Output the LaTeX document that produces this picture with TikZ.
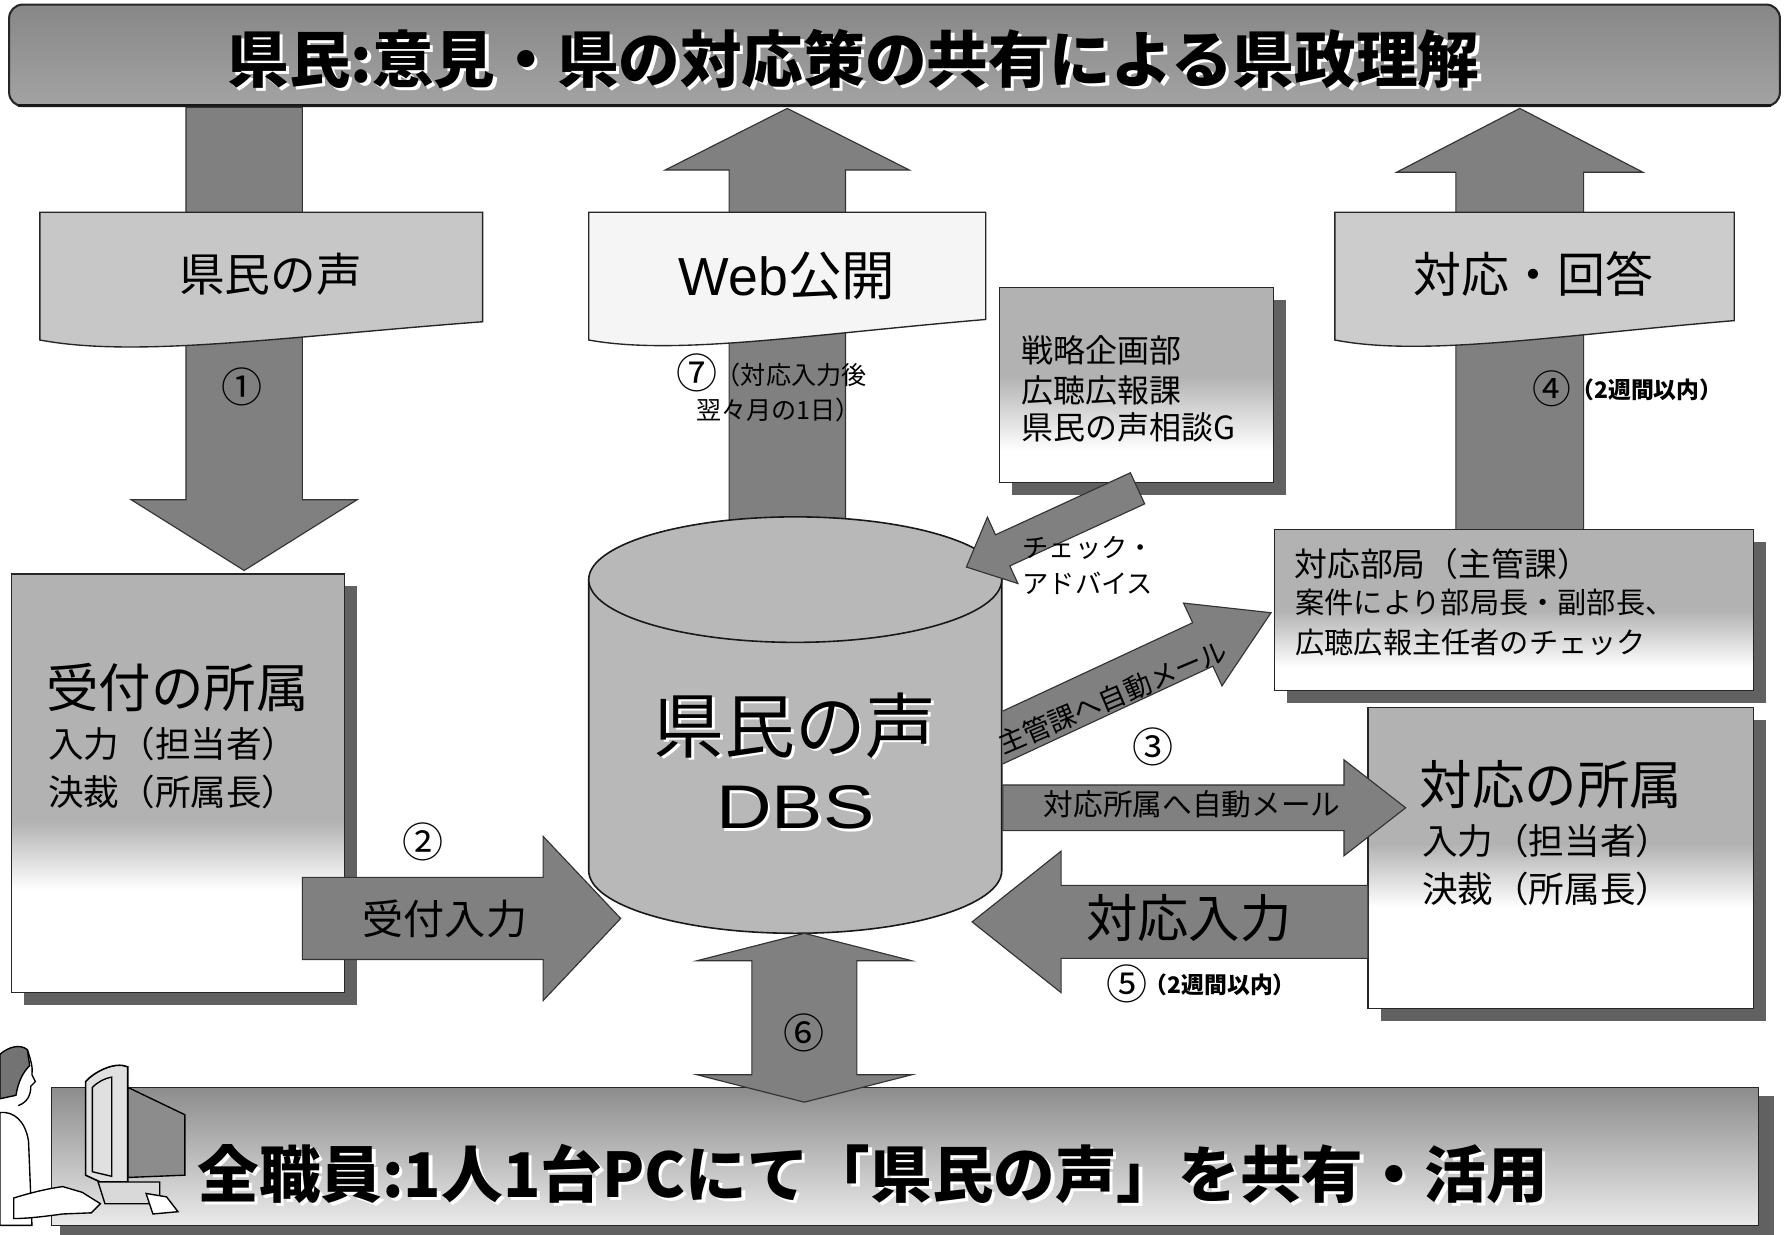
\documentclass[tikz,border=0pt]{standalone}
\usepackage{fontspec}
\setmainfont{Noto Sans CJK JP}
\newfontfamily\latinsans{Liberation Sans}
\usetikzlibrary{calc}

\newcommand{\fsz}[1]{\fontsize{#1}{#1}\selectfont}
% text with a white relief copy behind it
\newcommand{\embossed}[2][1.2pt]{\leavevmode\rlap{\kern#1\raisebox{-#1}{\textcolor{white}{#2}}}#2}

% block arrow from #2 to tip #3: shaft half width #4, head half width #5, head length #6
\newcommand{\blockarrow}[6][]{%
  \coordinate (bahead) at ($(#3)!#6!(#2)$);
  \path[#1] ($(#2)!#4!90:(#3)$) -- ($(bahead)!#4!-90:(#2)$) -- ($(bahead)!#5!-90:(#2)$)
    -- (#3) -- ($(bahead)!#5!90:(#2)$) -- ($(bahead)!#4!90:(#2)$) -- ($(#2)!#4!-90:(#3)$) -- cycle;}

% double-headed block arrow between #2 and #3
\newcommand{\dblarrow}[6][]{%
  \coordinate (dbheadA) at ($(#2)!#6!(#3)$);
  \coordinate (dbheadB) at ($(#3)!#6!(#2)$);
  \path[#1] (#2) -- ($(dbheadA)!#5!90:(#3)$) -- ($(dbheadA)!#4!90:(#3)$)
    -- ($(dbheadB)!#4!-90:(#2)$) -- ($(dbheadB)!#5!-90:(#2)$) -- (#3)
    -- ($(dbheadB)!#5!90:(#2)$) -- ($(dbheadB)!#4!90:(#2)$)
    -- ($(dbheadA)!#4!-90:(#3)$) -- ($(dbheadA)!#5!-90:(#3)$) -- cycle;}

% framed box with drop shadow, grey top fading to white
\newcommand{\gradbox}[6]{%
  \fill[dropshadow] ({#1+11},{#2+11}) rectangle ({#3+11},{#4+11});
  \fill[white] (#1,#2) rectangle (#3,#4);
  \fill[black!30] (#1,#2) rectangle (#3,#5);
  \shade[top color=black!30, bottom color=white] (#1,#5) rectangle (#3,#6);
  \draw[boxline] (#1,#2) rectangle (#3,#4);}

\tikzset{
  bigarrow/.style={fill=black!50, draw=black!80, line width=0.5pt},
  flagshape/.style={draw=black!85, line width=0.6pt},
  boxline/.style={draw=black!85, line width=0.6pt},
  dropshadow/.style={fill=black!62},
  txt/.style={inner sep=0pt, text=black},
  sketch/.style={draw=black, line width=0.6pt},
}

\begin{document}
\begin{tikzpicture}[x=0.5pt,y=-0.5pt]
\useasboundingbox (0,0) rectangle (1568,1082);
\fill[white] (0,0) rectangle (1568,1082);

% ---------- top banner
\shade[rounded corners=6pt, top color=black!47, bottom color=black!36] (8,4) rectangle (1560,93);
\draw[rounded corners=6pt, black!85, line width=0.9pt] (8,4) rectangle (1560,93);
\draw[black!90, line width=1.4pt] (16,92.5) -- (1552,92.5);
\node[txt, font=\fsz{27}\bfseries] (title) at (748,53) {\embossed[1.5pt]{県民:意見・県の対応策の共有による県政理解}};

% ---------- bottom banner
\fill[dropshadow] (53,961) rectangle (1555,1082);
\shade[top color=black!45, bottom color=black!8] (45,953) rectangle (1541,1074);
\draw[boxline] (45,953) rectangle (1541,1074);

% ---------- vertical arrows
\coordinate (v1a) at (214,94);   \coordinate (v1b) at (214,500);
\blockarrow[bigarrow]{v1a}{v1b}{25.5pt}{49.5pt}{31pt}
\coordinate (v7a) at (690,470);  \coordinate (v7b) at (690,95);
\blockarrow[bigarrow]{v7a}{v7b}{25.5pt}{53.5pt}{27pt}
\coordinate (v4a) at (1332,470); \coordinate (v4b) at (1332,95);
\blockarrow[bigarrow]{v4a}{v4b}{28pt}{54pt}{28pt}

% ---------- wavy flags
\filldraw[flagshape, fill=black!22] (35,186) -- (423,186) -- (423,282)
  .. controls (250,295) and (120,314) .. (35,298) -- cycle;
\node[txt, font=\fsz{20}] (voiceflag) at (237,240) {県民の声};
\filldraw[flagshape, fill=black!4] (516,186) -- (864,186) -- (864,280)
  .. controls (709,293) and (593,312) .. (516,298) -- cycle;
\node[txt, font=\fsz{23.5}] (webflag) at (690,242) {{\latinsans Web}公開};
\filldraw[flagshape, fill=black!20] (1170,186) -- (1520,186) -- (1520,281)
  .. controls (1364,294) and (1247,313) .. (1170,298) -- cycle;
\node[txt, font=\fsz{21}] (answerflag) at (1344,240) {対応・回答};

% ---------- boxes
\gradbox{10}{503}{302}{870}{720}{780}
\node[txt, font=\fsz{23}, anchor=west] (recvA) at (40,603) {受付の所属};
\node[txt, font=\fsz{15.6}, anchor=west] (recvB) at (42,652) {入力（担当者）};
\node[txt, font=\fsz{15.6}, anchor=west] (recvC) at (42,694) {決裁（所属長）};

\gradbox{876}{252}{1116}{423}{330}{395}
\node[txt, font=\fsz{14}, anchor=west] (pubA) at (895,307) {戦略企画部};
\node[txt, font=\fsz{14}, anchor=west] (pubB) at (895,342) {広聴広報課};
\node[txt, font=\fsz{14}, anchor=west] (pubC) at (895,375) {県民の声相談G};

\gradbox{1117}{464}{1537}{605}{535}{585}
\node[txt, font=\fsz{14.4}, anchor=west] (deptA) at (1134,494) {対応部局（主管課）};
\node[txt, font=\fsz{12.8}, anchor=west] (deptB) at (1135,528) {案件により部局長・副部長、};
\node[txt, font=\fsz{12.8}, anchor=west] (deptC) at (1135,563) {広聴広報主任者のチェック};

\gradbox{1199}{620}{1537}{884}{740}{795}
\node[txt, font=\fsz{23}, anchor=west] (respA) at (1244,688) {対応の所属};
\node[txt, font=\fsz{15.6}, anchor=west] (respB) at (1246,737) {入力（担当者）};
\node[txt, font=\fsz{15.6}, anchor=west] (respC) at (1246,779) {決裁（所属長）};

% ---------- database cylinder
\filldraw[fill=black!28, draw=black!90, line width=0.7pt] (516,508) -- (516,763)
  arc[start angle=180, end angle=360, x radius=90.5pt, y radius=27.5pt] -- (878,508) -- cycle;
\filldraw[fill=black!28, draw=black!90, line width=0.7pt] (697,508) ellipse [x radius=90.5pt, y radius=27.5pt];
\node[txt, font=\fsz{31}] (dbsname) at (697,637) {\embossed{県民の声}};
\node[txt, font=\latinsans\fsz{27}] (dbs) at (697,709) {\embossed{\scalebox{1.25}[1]{DBS}}};

% ---------- arrows around the database
\coordinate (h2a) at (265,805);  \coordinate (h2b) at (544,805);
\blockarrow[bigarrow]{h2a}{h2b}{18pt}{36pt}{34pt}
\coordinate (h5a) at (1199,808); \coordinate (h5b) at (852,808);
\blockarrow[bigarrow]{h5a}{h5b}{16pt}{31pt}{39pt}
\coordinate (h3a) at (879,708);  \coordinate (h3b) at (1232,708);
\blockarrow[bigarrow]{h3a}{h3b}{10pt}{21pt}{27pt}
\coordinate (mla) at (869,651);  \coordinate (mlb) at (1114,537);
\begin{scope}
  \clip (879,0) rectangle (1568,1082);
  \blockarrow[bigarrow]{mla}{mlb}{10.5pt}{20pt}{33pt}
\end{scope}
\coordinate (cka) at (997,428);  \coordinate (ckb) at (847,497);
\blockarrow[bigarrow]{cka}{ckb}{7.5pt}{16pt}{17.5pt}
\coordinate (d6a) at (705,818);  \coordinate (d6b) at (705,966);
\dblarrow[bigarrow]{d6a}{d6b}{23pt}{47pt}{12pt}

% ---------- arrow labels
\node[txt, font=\fsz{18}] (recvin) at (390,805) {受付入力};
\node[txt, font=\fsz{22.5}] (respin) at (1042,805) {対応入力};
\node[txt, font=\fsz{13}] (mailresp) at (1045,705) {対応所属へ自動メール};
\node[txt, font=\fsz{12}, rotate=23] (maildept) at (975,611) {主管課へ自動メール};
\node[txt, font=\fsz{11.5}, anchor=west] (checkA) at (896,480) {チェック・};
\node[txt, font=\fsz{11.5}, anchor=west] (checkB) at (896,511) {アドバイス};

\node[txt, font=\fsz{18}] (n1) at (212,339) {①};
\node[txt, font=\fsz{18}] (n2) at (371,738) {②};
\node[txt, font=\fsz{18}] (n3) at (1011,655) {③};
\node[txt, font=\fsz{17}] (n4) at (1360,341) {④};
\node[txt, font=\fsz{10}\bfseries, anchor=west] (n4t) at (1377,342) {（2週間以内）};
\node[txt, font=\fsz{18}] (n5) at (988,862) {⑤};
\node[txt, font=\fsz{10}\bfseries, anchor=west] (n5t) at (1003,863) {（2週間以内）};
\node[txt, font=\fsz{18}] (n6) at (705,905) {⑥};
\node[txt, font=\fsz{18}] (n7) at (611,327) {⑦};
\node[txt, font=\fsz{11}, anchor=west] (n7a) at (627,329) {（対応入力後};
\node[txt, font=\fsz{11}, anchor=west] (n7b) at (610,359) {翌々月の1日）};

% ---------- bottom banner text
\node[txt, font=\fsz{27}\bfseries] (staff) at (765,1030) {\embossed[1.5pt]{全職員:1人1台PCにて「県民の声」を共有・活用}};

% ---------- person at a computer
% monitor body seen from the side
\filldraw[sketch, fill=black!45] (112,953) -- (162,977) -- (162,1030) -- (112,1032) -- cycle;
% front bezel
\filldraw[sketch, fill=black!12, line width=0.7pt] (75,948) .. controls (82,940) and (100,930) .. (112,935)
  -- (112,1036) -- (88,1036) -- (75,1030) -- cycle;
\draw[sketch] (81,953) .. controls (86,948) and (92,945) .. (98,944) -- (98,1031) -- (81,1027) -- cycle;
% base and pad
\filldraw[sketch, fill=black!15] (86,1036) -- (140,1036) -- (140,1055) -- (92,1055) -- cycle;
\filldraw[sketch, fill=white] (128,1046) -- (146,1049) -- (156,1062) -- (134,1064) -- cycle;
% head
\filldraw[sketch, fill=black!55] (0,924) .. controls (8,917) and (18,915) .. (24,920)
  -- (26,934) .. controls (20,940) and (16,948) .. (14,960) -- (0,963) -- cycle;
\draw[sketch] (24,920) .. controls (27,929) and (29,936) .. (28,942) -- (31,948) -- (27,952)
  .. controls (27,960) and (24,966) .. (16,969);
% body and arm
\filldraw[sketch, fill=white] (0,975) .. controls (12,974) and (22,982) .. (25,1000)
  -- (28,1074) -- (0,1074) -- cycle;
\filldraw[sketch, fill=white] (12,1050) .. controls (25,1046) and (40,1042) .. (55,1040)
  -- (72,1045) -- (88,1055) -- (80,1063) -- (55,1064) .. controls (40,1066) and (25,1068) .. (12,1068) -- cycle;
\end{tikzpicture}
\end{document}
